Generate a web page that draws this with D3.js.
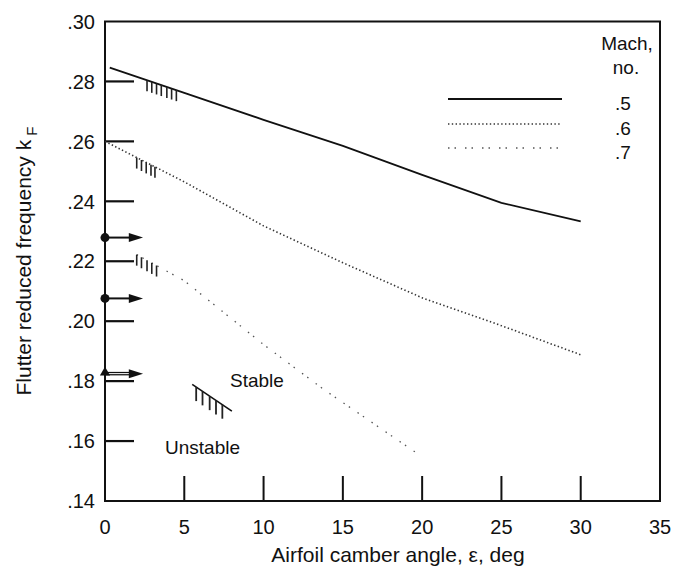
<!DOCTYPE html>
<html>
<head>
<meta charset="utf-8">
<script src="https://cdn.jsdelivr.net/npm/d3@7"></script>
<style>
    body { margin: 0; background: #fff; }
    text { font-family: "Liberation Sans", Arial, sans-serif; fill: #111; }
</style>
</head>
<body>
<svg id="chart" width="686" height="576"></svg>
<script>
// values
const mach5Eps = [0.3, 5, 10, 15, 20, 25, 30];
const mach5K = [0.2846, 0.2762, 0.2672, 0.2585, 0.2488, 0.2395, 0.2333];

const mach6Eps = [0, 5, 10, 15, 20, 25, 30];
const mach6K = [0.260, 0.2465, 0.2318, 0.2195, 0.2078, 0.1985, 0.1888];

const mach7Eps = [2, 5, 10, 13.8, 19.6];
const mach7K = [0.2222, 0.2135, 0.1922, 0.1772, 0.1562];

const machLabels = [".5", ".6", ".7"];

// unstable side hatching (camber angle of each stroke)
const hatch5 = [2.65, 2.95, 3.25, 3.55, 3.9, 4.2, 4.5];
const hatch6 = [2.0, 2.3, 2.6, 2.9, 3.15];
const hatch7 = [2.0, 2.3, 2.65, 2.95, 3.25];

// zero camber flutter points on the axis
const axisPointK = [0.2279, 0.2076, 0.1825];
const axisPointShape = ["circle", "circle", "triangle"];

// stable/unstable key line
const keyEps = [5.5, 8.0];
const keyK = [0.1789, 0.170];
const keyHatch = [5.75, 6.15, 6.6, 7.0, 7.4];

const xTicks = [0, 5, 10, 15, 20, 25, 30, 35];
const yTicks = [0.14, 0.16, 0.18, 0.20, 0.22, 0.24, 0.26, 0.28, 0.30];

const svg = d3.select("#chart");

const x = d3.scaleLinear().domain([0, 35]).range([105, 660]);
const y = d3.scaleLinear().domain([0.14, 0.30]).range([501, 21.5]);

// frame
svg.append("rect")
    .attr("x", x(0)).attr("y", y(0.30))
    .attr("width", x(35) - x(0)).attr("height", y(0.14) - y(0.30))
    .attr("fill", "none").attr("stroke", "#111").attr("stroke-width", 2);

// inward ticks
svg.selectAll(".ytick")
    .data(yTicks.filter(d => d > 0.15 && d < 0.29))
    .enter().append("line")
    .attr("x1", x(0)).attr("x2", x(0) + 29)
    .attr("y1", d => y(d)).attr("y2", d => y(d))
    .attr("stroke", "#111").attr("stroke-width", 2.2);

svg.selectAll(".xtick")
    .data(xTicks.filter(d => d > 0 && d < 35))
    .enter().append("line")
    .attr("x1", d => x(d)).attr("x2", d => x(d))
    .attr("y1", y(0.14)).attr("y2", y(0.14) - 25)
    .attr("stroke", "#111").attr("stroke-width", 2);

// tick labels
svg.selectAll(".ylab")
    .data(yTicks)
    .enter().append("text")
    .attr("x", 95).attr("y", d => y(d))
    .attr("dy", "0.36em")
    .attr("text-anchor", "end")
    .style("font-size", "20px")
    .text(d => d3.format(".2f")(d).replace(/^0/, ""));

svg.selectAll(".xlab")
    .data(xTicks)
    .enter().append("text")
    .attr("x", d => x(d)).attr("y", 527)
    .attr("dy", "0.36em")
    .attr("text-anchor", "middle")
    .style("font-size", "20px")
    .text(d => d);

// axis titles
svg.append("text")
    .attr("x", 398).attr("y", 562)
    .attr("text-anchor", "middle")
    .style("font-size", "21px")
    .text("Airfoil camber angle, \u03b5, deg");

let ytitle = svg.append("text")
    .attr("transform", "translate(31 261) rotate(-90)")
    .attr("text-anchor", "middle")
    .style("font-size", "21px");
ytitle.append("tspan").text("Flutter reduced frequency k");
ytitle.append("tspan").attr("dy", 6).style("font-size", "15px").text(" F");

// curves
const line = d3.line().x(d => x(d[0])).y(d => y(d[1]));

const curves = [
    { eps: mach5Eps, k: mach5K, dash: null, width: 1.8, color: "#111", hatch: hatch5 },
    { eps: mach6Eps, k: mach6K, dash: "1.4,2.4", width: 1.6, color: "#333", hatch: hatch6 },
    { eps: mach7Eps, k: mach7K, dash: "1.5,5,1.5,9", width: 1.3, color: "#555", hatch: hatch7 }
];

for (let c of curves) {
    let pts = c.eps.map((e, i) => [e, c.k[i]]);
    svg.append("path")
        .datum(pts)
        .attr("d", line)
        .attr("fill", "none")
        .attr("stroke", c.color)
        .attr("stroke-width", c.width)
        .attr("stroke-dasharray", c.dash);

    let kAt = d3.scaleLinear().domain(c.eps).range(c.k);
    svg.selectAll(null)
        .data(c.hatch)
        .enter().append("line")
        .attr("x1", d => x(d)).attr("x2", d => x(d))
        .attr("y1", d => y(kAt(d))).attr("y2", d => y(kAt(d)) + 11)
        .attr("stroke", "#222").attr("stroke-width", 1.6);
}

// stable / unstable key
let keyAt = d3.scaleLinear().domain(keyEps).range(keyK);
svg.append("line")
    .attr("x1", x(keyEps[0])).attr("y1", y(keyK[0]))
    .attr("x2", x(keyEps[1])).attr("y2", y(keyK[1]))
    .attr("stroke", "#111").attr("stroke-width", 1.6);
svg.selectAll(null)
    .data(keyHatch)
    .enter().append("line")
    .attr("x1", d => x(d)).attr("x2", d => x(d))
    .attr("y1", d => y(keyAt(d))).attr("y2", d => y(keyAt(d)) + 14)
    .attr("stroke", "#222").attr("stroke-width", 1.8);

svg.append("text").attr("x", 230).attr("y", 387)
    .style("font-size", "19px").text("Stable");
svg.append("text").attr("x", 165).attr("y", 454)
    .style("font-size", "19px").text("Unstable");

// flutter points at zero camber, with arrows
axisPointK.forEach((k, i) => {
    let py = y(k);
    svg.append("line")
        .attr("x1", x(0)).attr("x2", x(1.6))
        .attr("y1", py).attr("y2", py)
        .attr("stroke", "#111").attr("stroke-width", i == 2 ? 3.5 : 2);
    if (i == 2) {
        svg.append("line")
            .attr("x1", x(0) + 2).attr("x2", x(1.6))
            .attr("y1", py).attr("y2", py)
            .attr("stroke", "#fff").attr("stroke-width", 1);
    }
    svg.append("path")
        .attr("d", `M${x(1.5)},${py - 4.5}L${x(2.4)},${py}L${x(1.5)},${py + 4.5}Z`)
        .attr("fill", "#111");
    if (axisPointShape[i] == "circle") {
        svg.append("circle").attr("cx", x(0)).attr("cy", py).attr("r", 4.5).attr("fill", "#111");
    } else {
        svg.append("path")
            .attr("d", d3.symbol().type(d3.symbolTriangle).size(45))
            .attr("transform", `translate(${x(0)},${py - 1})`)
            .attr("fill", "#111");
    }
});

// legend
svg.append("text").attr("x", 627).attr("y", 50)
    .attr("text-anchor", "middle").style("font-size", "19px").text("Mach,");
svg.append("text").attr("x", 626).attr("y", 74)
    .attr("text-anchor", "middle").style("font-size", "19px").text("no.");

const legendY = [99, 124, 148];
curves.forEach((c, i) => {
    svg.append("line")
        .attr("x1", 448).attr("x2", 562)
        .attr("y1", legendY[i]).attr("y2", legendY[i])
        .attr("stroke", c.color)
        .attr("stroke-width", c.width)
        .attr("stroke-dasharray", c.dash);
    svg.append("text")
        .attr("x", 615).attr("y", legendY[i] + 4)
        .attr("dy", "0.36em")
        .style("font-size", "19px")
        .text(machLabels[i]);
});
</script>
</body>
</html>
